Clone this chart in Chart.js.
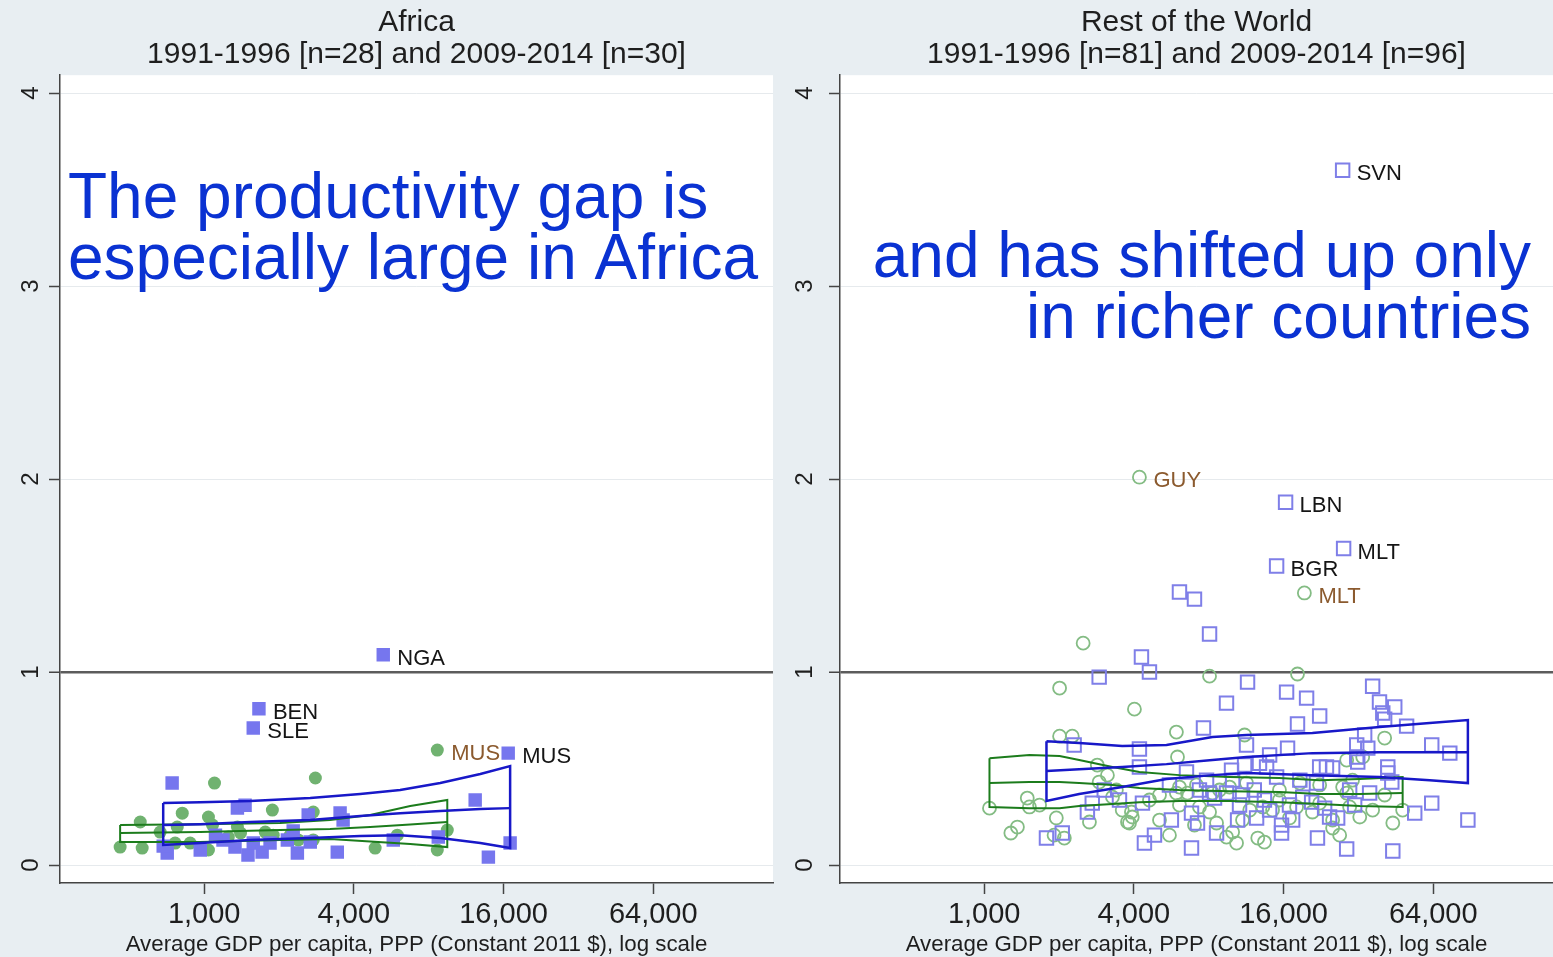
<!DOCTYPE html>
<html>
<head>
<meta charset="utf-8">
<script src="https://cdn.jsdelivr.net/npm/chart.js@4.4.1/dist/chart.umd.min.js"></script>
<style>
  html, body { margin: 0; padding: 0; background: #e8eef2; overflow: hidden; width: 1553px; height: 957px; }
  canvas { position: absolute; top: 0; }
  #africa { left: 0; }
  #world { left: 780px; }
</style>
</head>
<body>
<canvas id="africa" width="780" height="957"></canvas>
<canvas id="world" width="780" height="957"></canvas>
<script>
// ---- axis ticks ----
const xTickValues = [1000, 4000, 16000, 64000];
const yTickValues = [0, 1, 2, 3, 4];

// ---- Africa, 2009-2014 (n=30) ----
const afrLateGdp = [5250, 1660, 1575, 16700, 743, 1360, 1460, 2620, 3520, 3620, 12300, 8740, 17000, 13900, 3430,
  2370, 1500, 710, 964, 1330, 1575, 684, 1190, 2160, 2280, 1840, 2670, 5760, 1110, 1710];
const afrLateGap = [1.09, 0.81, 0.71, 0.58, 0.425, 0.295, 0.31, 0.26, 0.27, 0.233, 0.337, 0.145, 0.114, 0.041, 0.067,
  0.062, 0.052, 0.062, 0.078, 0.093, 0.114, 0.098, 0.13, 0.13, 0.176, 0.114, 0.119, 0.13, 0.155, 0.067];
const afrLateNames = ['NGA', 'BEN', 'SLE', 'MUS'];

// ---- Africa, 1991-1996 (n=28) ----
const afrEarlyGdp = [8660, 1100, 2800, 1880, 816, 1040, 553, 2745, 1760, 459, 563, 764, 878, 1040, 9500, 8660,
  4870, 5980, 2390, 1400, 1250, 2745, 1895, 1080, 1360, 665, 779, 2220];
const afrEarlyGap = [0.596, 0.425, 0.451, 0.285, 0.269, 0.249, 0.223, 0.275, 0.171, 0.093, 0.088, 0.114, 0.114, 0.078,
  0.181, 0.078, 0.088, 0.155, 0.13, 0.166, 0.145, 0.13, 0.155, 0.207, 0.197, 0.171, 0.197, 0.155];
const afrEarlyNames = ['MUS'];

// ---- Africa bands (upper / middle / lower curves) ----
const afrEarlyBandGdp = [459, 964, 2020, 3210, 4650, 6740, 9500];
const afrEarlyBandHi = [0.207, 0.212, 0.218, 0.233, 0.259, 0.306, 0.337];
const afrEarlyBandMid = [0.166, 0.171, 0.181, 0.187, 0.197, 0.210, 0.223];
const afrEarlyBandLo = [0.119, 0.119, 0.130, 0.135, 0.122, 0.109, 0.093];

const afrLateBandGdp = [684, 964, 1530, 2670, 4240, 6140, 8900, 12900, 17000];
const afrLateBandHi = [0.321, 0.326, 0.332, 0.347, 0.368, 0.389, 0.425, 0.472, 0.513];
const afrLateBandMid = [0.207, 0.212, 0.223, 0.233, 0.254, 0.269, 0.280, 0.290, 0.295];
const afrLateBandLo = [0.104, 0.114, 0.130, 0.140, 0.150, 0.155, 0.140, 0.114, 0.088];

// ---- Rest of the World, 2009-2014 (n=96) ----
const rowLateGdp = [27650, 16300, 27900, 15000, 6100, 7010, 8060, 4290, 4620, 2900,
  11460, 36500, 16450, 19800, 9430, 22350, 18200, 38900, 44800, 40100,
  40800, 50000, 7620, 33900, 2300, 4210, 11350, 16600, 14060, 31500,
  34900, 31500, 31800, 63100, 74600, 4210, 11150, 12800, 13670, 22350,
  23800, 25200, 42000, 42000, 43600, 6510, 7840, 9980, 15000, 21700,
  35500, 9430, 8060, 10940, 19100, 20750, 63100, 53900, 88200, 2720,
  2600, 4330, 5660, 6820, 7210, 10450, 12460, 15700, 17400, 24500,
  26400, 1780, 2060, 4840, 4410, 8600, 15700, 21900, 6820, 28700,
  44000, 5560, 7340, 8440, 12200, 13400, 16900, 18600, 9880, 29500,
  30900, 3500, 3040, 14060, 10640, 23400];
const rowLateGap = [3.60, 1.88, 1.64, 1.55, 1.415, 1.378, 1.197, 1.078, 1.0, 0.974,
  0.948, 0.927, 0.896, 0.865, 0.839, 0.772, 0.731, 0.845, 0.819, 0.788,
  0.756, 0.720, 0.710, 0.674, 0.622, 0.601, 0.622, 0.606, 0.570, 0.622,
  0.606, 0.560, 0.534, 0.622, 0.580, 0.508, 0.518, 0.528, 0.508, 0.508,
  0.508, 0.503, 0.508, 0.477, 0.430, 0.482, 0.440, 0.440, 0.456, 0.425,
  0.373, 0.373, 0.373, 0.363, 0.352, 0.326, 0.321, 0.269, 0.233, 0.321,
  0.275, 0.321, 0.233, 0.269, 0.218, 0.233, 0.244, 0.207, 0.233, 0.249,
  0.244, 0.140, 0.166, 0.155, 0.114, 0.166, 0.166, 0.140, 0.088, 0.083,
  0.073, 0.415, 0.389, 0.347, 0.389, 0.337, 0.311, 0.440, 0.492, 0.389,
  0.311, 0.337, 0.389, 0.285, 0.311, 0.295];
const rowLateNames = ['SVN', 'LBN', 'MLT', 'BGR'];

// ---- Rest of the World, 1991-1996 (n=81) ----
const rowEarlyGdp = [4210, 19400, 2500, 2010, 8060, 18200, 4020, 5930, 40800, 2010,
  2260, 11150, 5990, 2850, 2900, 28700, 1050, 1490, 1950, 3280,
  3400, 1280, 1360, 1910, 2100, 2650, 3910, 3770, 3940, 5560,
  5930, 6570, 8280, 8840, 6100, 7340, 8600, 9430, 10350, 12600,
  13400, 9980, 10940, 13200, 14450, 15400, 18050, 20900, 25200, 25200,
  29500, 32400, 36500, 44000, 48200, 28700, 27650, 30300, 33300, 11350,
  9700, 7140, 6100, 18600, 22350, 3840, 3590, 1670, 3130, 4620,
  5070, 11700, 16900, 22350, 40800, 7010, 5070, 26900, 15400, 8060,
  1520];
const rowEarlyGap = [2.01, 1.41, 1.15, 0.917, 0.979, 0.990, 0.808, 0.689, 0.658, 0.668,
  0.668, 0.674, 0.560, 0.518, 0.430, 0.544, 0.295, 0.347, 0.244, 0.352,
  0.389, 0.166, 0.197, 0.155, 0.140, 0.223, 0.275, 0.223, 0.249, 0.155,
  0.373, 0.373, 0.373, 0.389, 0.311, 0.301, 0.218, 0.145, 0.114, 0.140,
  0.119, 0.171, 0.233, 0.301, 0.285, 0.337, 0.301, 0.275, 0.233, 0.192,
  0.301, 0.249, 0.285, 0.218, 0.285, 0.373, 0.404, 0.440, 0.560, 0.425,
  0.404, 0.415, 0.404, 0.425, 0.415, 0.218, 0.285, 0.311, 0.466, 0.337,
  0.233, 0.285, 0.244, 0.321, 0.363, 0.207, 0.363, 0.155, 0.389, 0.275,
  0.301];
const rowEarlyNames = ['GUY', 'MLT'];

// ---- Rest of the World bands ----
const rowEarlyBandGdp = [1050, 1520, 2010, 2410, 3280, 4210, 6100, 9700, 15400, 22350, 32400, 48200];
const rowEarlyBandHi = [0.554, 0.570, 0.565, 0.544, 0.508, 0.482, 0.466, 0.456, 0.451, 0.440, 0.446, 0.456];
const rowEarlyBandMid = [0.425, 0.430, 0.430, 0.425, 0.415, 0.399, 0.389, 0.383, 0.378, 0.368, 0.368, 0.373];
const rowEarlyBandLo = [0.301, 0.295, 0.295, 0.306, 0.316, 0.326, 0.332, 0.332, 0.326, 0.316, 0.306, 0.301];

const rowLateBandGdp = [1780, 2410, 3590, 5410, 8280, 11350, 20900, 38900, 61900, 88200];
const rowLateBandHi = [0.642, 0.632, 0.617, 0.622, 0.663, 0.674, 0.684, 0.715, 0.736, 0.751];
const rowLateBandMid = [0.487, 0.497, 0.508, 0.523, 0.544, 0.560, 0.580, 0.585, 0.585, 0.585];
const rowLateBandLo = [0.332, 0.368, 0.404, 0.446, 0.466, 0.477, 0.466, 0.456, 0.440, 0.425];

// ---- styling ----
const FONT = '"Liberation Sans", Arial, Helvetica, sans-serif';
const BLUE_MARK = '#7676ee';
const GREEN_MARK = '#70b270';
const BLUE_LINE = '#1818c8';
const GREEN_LINE = '#1c7c1c';
const NOTE_BLUE = '#0a32d2';

function points(xs, ys) { return xs.map((x, i) => ({ x, y: ys[i] })); }

// closed outline: upper curve left→right, lower curve right→left
function outline(xs, hi, lo) {
  const pts = xs.map((x, i) => ({ x, y: hi[i] }));
  for (let i = xs.length - 1; i >= 0; i--) pts.push({ x: xs[i], y: lo[i] });
  pts.push({ x: xs[0], y: hi[0] });
  return pts;
}

function lineSet(data, color, width) {
  return { data, showLine: true, borderColor: color, borderWidth: width, pointRadius: 0,
           pointHoverRadius: 0, fill: false, tension: 0, borderJoinStyle: 'miter' };
}

const plotBackground = {
  id: 'plotBackground',
  beforeDraw(chart) {
    const { ctx, chartArea: a } = chart;
    ctx.save();
    ctx.fillStyle = '#ffffff';
    ctx.fillRect(a.left, a.top, a.right - a.left, a.bottom - a.top);
    ctx.restore();
  }
};

const pointNames = {
  id: 'pointNames',
  afterDatasetsDraw(chart) {
    const ctx = chart.ctx;
    chart.data.datasets.forEach((ds, di) => {
      if (!ds.names) return;
      const meta = chart.getDatasetMeta(di);
      ctx.save();
      ctx.font = '22px ' + FONT;
      ctx.fillStyle = ds.nameColor;
      ctx.textBaseline = 'middle';
      ctx.textAlign = 'left';
      ds.names.forEach((n, i) => {
        const el = meta.data[i];
        if (n && el) ctx.fillText(n, el.x + 14, el.y + 4);
      });
      ctx.restore();
    });
  }
};

function headline(lines, x, baselines, align) {
  return {
    id: 'headline',
    afterDatasetsDraw(chart) {
      const ctx = chart.ctx;
      ctx.save();
      ctx.font = '64px ' + FONT;
      ctx.fillStyle = NOTE_BLUE;
      ctx.textAlign = align;
      ctx.textBaseline = 'alphabetic';
      lines.forEach((t, i) => ctx.fillText(t, x, baselines[i]));
      ctx.restore();
    }
  };
}

function makePanel(id, titleLines, sets, note, yLabelPad) {
  const late = {
    data: points(sets.lateGdp, sets.lateGap), names: sets.lateNames, nameColor: '#151515',
    pointStyle: 'rect', pointRadius: 9.5, pointHoverRadius: 9.5,
    backgroundColor: sets.hollow ? 'rgba(0,0,0,0)' : BLUE_MARK,
    borderColor: sets.hollow ? '#7f7fe8' : BLUE_MARK, borderWidth: sets.hollow ? 2 : 0
  };
  const early = {
    data: points(sets.earlyGdp, sets.earlyGap), names: sets.earlyNames, nameColor: '#8b5a2e',
    pointStyle: 'circle', pointRadius: 6.5, pointHoverRadius: 6.5,
    backgroundColor: sets.hollow ? 'rgba(0,0,0,0)' : GREEN_MARK,
    borderColor: sets.hollow ? '#84bc84' : GREEN_MARK, borderWidth: sets.hollow ? 1.8 : 0
  };
  return new Chart(document.getElementById(id), {
    type: 'scatter',
    data: {
      datasets: [
        lineSet(outline(sets.lateBand[0], sets.lateBand[1], sets.lateBand[3]), BLUE_LINE, 2.5),
        lineSet(points(sets.lateBand[0], sets.lateBand[2]), BLUE_LINE, 2.5),
        lineSet(outline(sets.earlyBand[0], sets.earlyBand[1], sets.earlyBand[3]), GREEN_LINE, 2),
        lineSet(points(sets.earlyBand[0], sets.earlyBand[2]), GREEN_LINE, 2),
        late,
        early
      ]
    },
    options: {
      responsive: false,
      animation: false,
      devicePixelRatio: 1,
      layout: { autoPadding: false, padding: { left: 0, right: 7, top: 0, bottom: 0 } },
      plugins: {
        legend: { display: false },
        tooltip: { enabled: false },
        title: {
          display: true, text: titleLines, fullSize: false, color: '#1e1e1e',
          font: { family: FONT, size: 30, weight: 'normal', lineHeight: 1.07 },
          padding: { top: 7, bottom: 4 }
        }
      },
      scales: {
        x: {
          type: 'logarithmic', min: 263, max: 194000,
          afterBuildTicks: s => { s.ticks = xTickValues.map(v => ({ value: v })); },
          afterFit: s => { s.height = 74; s.paddingLeft = 0; s.paddingRight = 0; },
          ticks: {
            autoSkip: false, maxRotation: 0, color: '#1e1e1e', padding: 4,
            font: { family: FONT, size: 29 },
            callback: v => Number(v).toLocaleString('en-US')
          },
          grid: { drawOnChartArea: false, drawTicks: true, tickLength: 11, tickColor: '#444', tickWidth: 1.5 },
          border: { display: true, color: '#444', width: 1.5 },
          title: {
            display: true, text: 'Average GDP per capita, PPP (Constant 2011 $), log scale',
            color: '#1e1e1e', font: { family: FONT, size: 22.3, lineHeight: 1.05 }, padding: { top: 0, bottom: 0 }
          }
        },
        y: {
          type: 'linear', min: -0.093, max: 4.093,
          afterBuildTicks: s => { s.ticks = yTickValues.map(v => ({ value: v })); },
          afterFit: s => { s.width = 60; s.paddingTop = 0; s.paddingBottom = 0; },
          ticks: {
            minRotation: 90, maxRotation: 90, crossAlign: 'center', padding: yLabelPad,
            color: '#1e1e1e', font: { family: FONT, size: 24 }
          },
          grid: {
            color: c => (c.tick && c.tick.value === 1) ? '#5c5c5c' : '#e6eaed',
            lineWidth: c => (c.tick && c.tick.value === 1) ? 2.5 : 1,
            tickLength: 11, tickColor: '#444', tickWidth: 1.5
          },
          border: { display: true, color: '#444', width: 1.5 }
        }
      }
    },
    plugins: [plotBackground, pointNames, note]
  });
}

makePanel('africa', ['Africa', '1991-1996 [n=28] and 2009-2014 [n=30]'], {
  lateGdp: afrLateGdp, lateGap: afrLateGap, lateNames: afrLateNames,
  earlyGdp: afrEarlyGdp, earlyGap: afrEarlyGap, earlyNames: afrEarlyNames,
  lateBand: [afrLateBandGdp, afrLateBandHi, afrLateBandMid, afrLateBandLo],
  earlyBand: [afrEarlyBandGdp, afrEarlyBandHi, afrEarlyBandMid, afrEarlyBandLo],
  hollow: false
}, headline(['The productivity gap is', 'especially large in Africa'], 68, [218, 279], 'left'), 11);

makePanel('world', ['Rest of the World', '1991-1996 [n=81] and 2009-2014 [n=96]'], {
  lateGdp: rowLateGdp, lateGap: rowLateGap, lateNames: rowLateNames,
  earlyGdp: rowEarlyGdp, earlyGap: rowEarlyGap, earlyNames: rowEarlyNames,
  lateBand: [rowLateBandGdp, rowLateBandHi, rowLateBandMid, rowLateBandLo],
  earlyBand: [rowEarlyBandGdp, rowEarlyBandHi, rowEarlyBandMid, rowEarlyBandLo],
  hollow: true
}, headline(['and has shifted up only', 'in richer countries'], 751, [277, 338], 'right'), 17);
</script>
</body>
</html>
